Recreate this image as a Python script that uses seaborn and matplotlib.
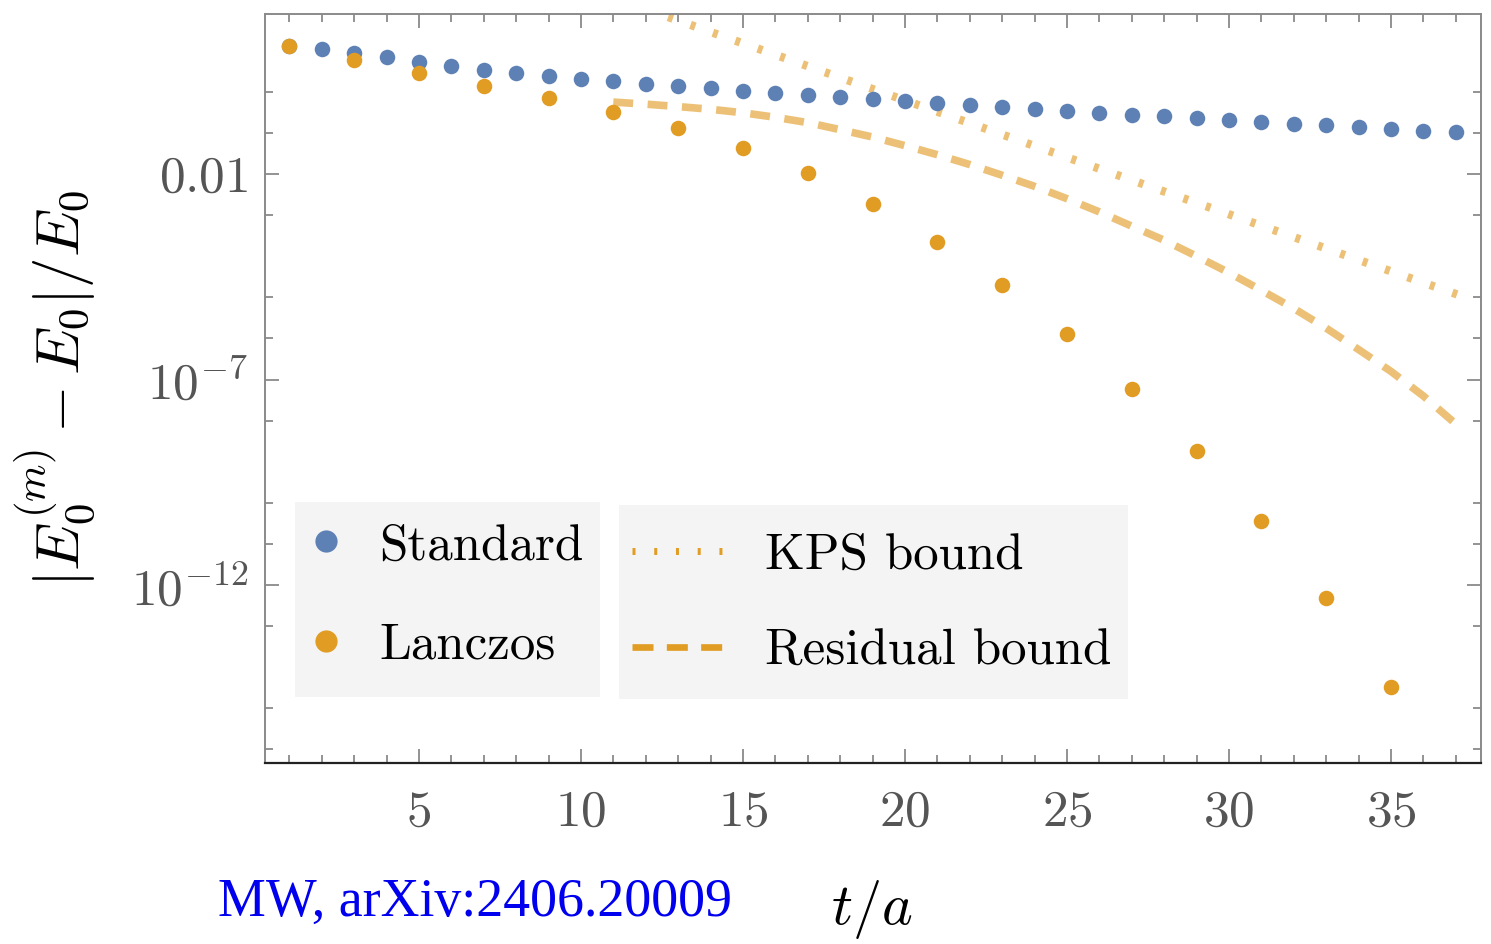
import numpy as np
import pandas as pd
import matplotlib
matplotlib.use("Agg")
import matplotlib.pyplot as plt
import seaborn as sns
from matplotlib.lines import Line2D
from matplotlib.patches import Rectangle
from matplotlib.ticker import FixedLocator, FixedFormatter, NullFormatter

# ---------------- data ----------------
t_standard = list(range(1, 38))
standard = [13.2, 10.7, 8.91, 6.92, 5.37, 4.27, 3.47, 2.92, 2.45, 2.09,
            1.80, 1.57, 1.36, 1.22, 1.06, 0.935, 0.836, 0.735, 0.668, 0.607,
            0.543, 0.478, 0.434, 0.388, 0.347, 0.310, 0.277, 0.254, 0.231, 0.206,
            0.184, 0.167, 0.153, 0.139, 0.126, 0.113, 0.104]

t_lanczos = list(range(1, 36, 2))
lanczos = [13.2, 5.83, 2.82, 1.41, 0.718, 0.328, 0.132, 0.0422, 0.0104,
           1.83e-3, 2.25e-4, 2.03e-5, 1.28e-6, 5.77e-8, 1.79e-9, 3.67e-11,
           4.74e-13, 3.36e-15]

t_kps = [12, 14, 16, 18, 20, 22, 24, 26, 28, 30, 32, 34, 36, 37.3]
kps = [102.6, 28.6, 7.98, 2.22, 0.619, 0.173, 0.0482, 0.01345, 3.75e-3,
       1.05e-3, 2.92e-4, 8.13e-5, 2.27e-5, 1.0e-5]

t_resid = list(range(11, 38))
resid = [0.562, 0.501, 0.437, 0.376, 0.309, 0.240, 0.178, 0.120, 0.0794,
         0.0490, 0.0295, 0.0170, 9.33e-3, 5.01e-3, 2.51e-3, 1.20e-3, 5.37e-4,
         2.45e-4, 1.00e-4, 3.98e-5, 1.48e-5, 5.37e-6, 1.78e-6, 5.37e-7,
         1.58e-7, 3.98e-8, 8.32e-9]

x_major = [5, 10, 15, 20, 25, 30, 35]
y_major = [1e-2, 1e-7, 1e-12]
y_major_labels = [r"$0.01$", r"$10^{-7}$", r"$10^{-12}$"]
y_minor = [1e0, 1e-1, 1e-3, 1e-5, 1e-6, 1e-8, 1e-10, 1e-11, 1e-13, 1e-15, 1e-16]

legend_points = ["Standard", "Lanczos"]
legend_lines = ["KPS bound", "Residual bound"]

BLUE = "#5e81b5"
ORANGE = "#e19c24"

# ---------------- style ----------------
sns.set_theme(style="white")
plt.rcParams["font.family"] = ["cmr10"]
plt.rcParams["mathtext.fontset"] = "cm"
plt.rcParams["axes.unicode_minus"] = False
plt.rcParams["axes.formatter.use_mathtext"] = True

W, H = 1491, 944
fig = plt.figure(figsize=(W / 100, H / 100), dpi=100)
ax = fig.add_axes([265 / W, 1 - 763 / H, (1481 - 265) / W, (763 - 14) / H])

df_std = pd.DataFrame({"t": t_standard, "err": standard})
df_lan = pd.DataFrame({"t": t_lanczos, "err": lanczos})
df_kps = pd.DataFrame({"t": t_kps, "err": kps})
df_res = pd.DataFrame({"t": t_resid, "err": resid})

sns.scatterplot(data=df_std, x="t", y="err", ax=ax, color=BLUE, s=125,
                linewidth=0, zorder=3, legend=False)
sns.scatterplot(data=df_lan, x="t", y="err", ax=ax, color=ORANGE, s=125,
                linewidth=0, zorder=4, legend=False)
sns.lineplot(data=df_kps, x="t", y="err", ax=ax, color=ORANGE, alpha=0.62,
             linewidth=6.0, zorder=2, legend=False)
sns.lineplot(data=df_res, x="t", y="err", ax=ax, color=ORANGE, alpha=0.62,
             linewidth=5.5, zorder=2, legend=False)
l_kps, l_res = ax.get_lines()[-2:]
l_kps.set_dashes([0.6, 2.25])
l_kps.set_dash_capstyle("butt")
l_res.set_dashes([2.6, 1.9])
l_res.set_dash_capstyle("butt")

ax.set_yscale("log")
ax.set_xlim(0.25, 37.78)
ax.set_ylim(10 ** -16.33, 10 ** 1.893)

ax.xaxis.set_major_locator(FixedLocator(x_major))
ax.xaxis.set_minor_locator(FixedLocator(list(range(1, 38))))
ax.xaxis.set_minor_formatter(NullFormatter())
ax.yaxis.set_major_locator(FixedLocator(y_major))
ax.yaxis.set_major_formatter(FixedFormatter(y_major_labels))
ax.yaxis.set_minor_locator(FixedLocator(y_minor))
ax.yaxis.set_minor_formatter(NullFormatter())
ax.set_xticklabels([rf"${v}$" for v in x_major])

ax.tick_params(which="both", direction="in", top=True, right=True,
               bottom=True, left=True, color="#808080", width=1.2)
ax.tick_params(which="major", length=10)
ax.tick_params(which="minor", length=5.8)
ax.tick_params(axis="x", which="major", labelsize=37, labelcolor="#555555", pad=19)
ax.tick_params(axis="y", which="major", labelsize=37, labelcolor="#555555", pad=12)

for side in ["top", "left", "right"]:
    ax.spines[side].set_color("#8a8a8a")
    ax.spines[side].set_linewidth(1.4)
ax.spines["bottom"].set_color("#222222")
ax.spines["bottom"].set_linewidth(1.6)

ax.set_xlabel(r"$t/a$", fontsize=42, color="black")
ax.xaxis.set_label_coords((872 - 265) / 1216, (763 - 878) / 749)
ax.set_ylabel(r"$|E_0^{(m)} - E_0|/E_0$", fontsize=44, color="black")
ax.yaxis.set_label_coords((98 - 265) / 1216, (763 - 388) / 749)

# ---------------- legends ----------------
for (x0, y0, x1, y1) in [(295, 502, 600, 697), (619, 505, 1128, 699)]:
    ax.add_patch(Rectangle((x0 / W, 1 - y1 / H), (x1 - x0) / W, (y1 - y0) / H,
                           transform=fig.transFigure, facecolor="#f4f4f4",
                           edgecolor="none", zorder=5, clip_on=False))

h_pts = [Line2D([], [], linestyle="none", marker="o", markersize=16,
                markerfacecolor=c, markeredgewidth=0) for c in (BLUE, ORANGE)]
leg1 = ax.legend(h_pts, legend_points, loc="center left",
                 bbox_to_anchor=(301 / W, 1 - 596 / H), bbox_transform=fig.transFigure,
                 frameon=False, fontsize=36.7, handlelength=1.0, handletextpad=0.54,
                 labelspacing=1.05, borderpad=0, borderaxespad=0, labelcolor="black")
leg1.set_zorder(6)
ax.add_artist(leg1)

h_lines = [Line2D([], [], color=ORANGE, linewidth=5.0, dashes=[0.43, 2.7],
                  dash_capstyle="butt"),
           Line2D([], [], color=ORANGE, linewidth=4.8, dashes=[3.15, 2.0],
                  dash_capstyle="butt")]
leg2 = ax.legend(h_lines, legend_lines, loc="center left",
                 bbox_to_anchor=(632 / W, 1 - 604 / H), bbox_transform=fig.transFigure,
                 frameon=False, fontsize=36.7, handlelength=1.84, handletextpad=0.76,
                 labelspacing=0.98, borderpad=0, borderaxespad=0, labelcolor="black")
leg2.set_zorder(6)

fig.text(218 / W, 1 - 916 / H, "MW, arXiv:2406.20009", color="#0000ee",
         fontsize=38.8, family=["Liberation Serif"], va="baseline", ha="left")

fig.savefig("out.png", dpi=100)
